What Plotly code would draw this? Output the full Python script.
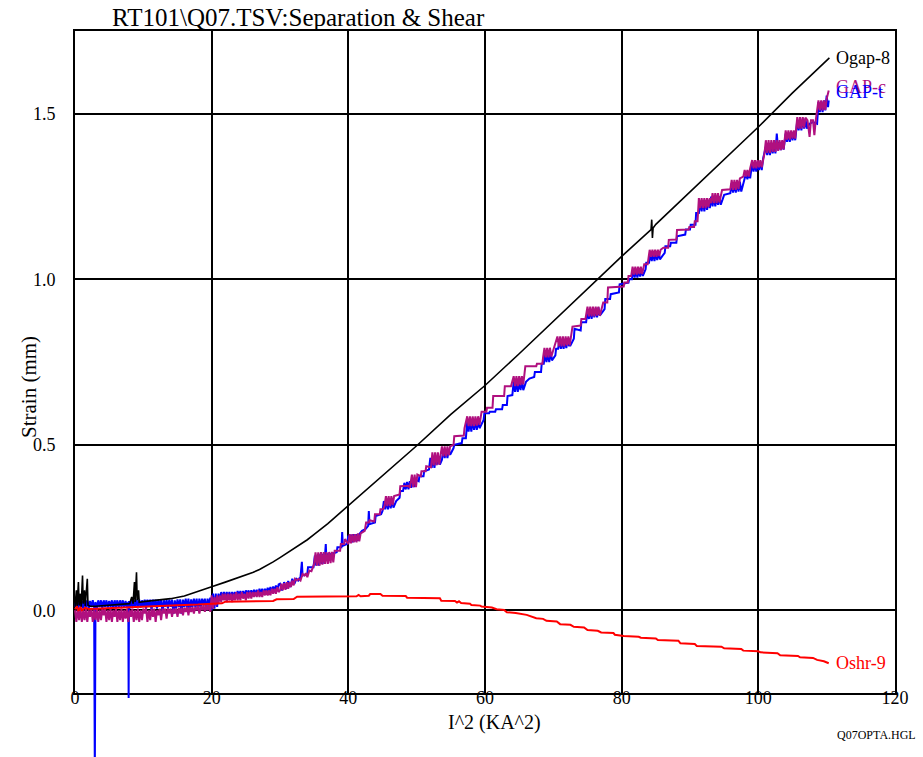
import plotly.graph_objects as go

# ---------------- data ----------------
X_TICKS = [0, 20, 40, 60, 80, 100, 120]
Y_TICKS = [0.0, 0.5, 1.0, 1.5]
Y_TICK_TEXT = ["0.0", "0.5", "1.0", "1.5"]

OGAP_8 = [(0.0,0.010),(0.2,0.060),(0.3,0.010),(0.5,0.085),(0.6,0.015),(0.8,0.050),(0.9,0.010),
          (1.1,0.105),(1.2,0.020),(1.4,0.060),(1.5,0.012),(1.8,0.095),(1.9,0.015),(2.2,0.012),
          (3.0,0.012),(4.0,0.014),(5.0,0.016),(6.0,0.017),(7.0,0.019),(8.0,0.020),(8.3,0.040),
          (8.5,0.020),(8.7,0.085),(8.8,0.025),(9.0,0.115),(9.1,0.030),(9.3,0.060),(9.4,0.024),
          (10.0,0.026),(12.0,0.030),(14.0,0.035),(16.0,0.043),(18.0,0.056),(20.0,0.071),
          (22.0,0.085),(24.0,0.099),(25.0,0.106),(26.0,0.114),(27.0,0.123),(28.0,0.134),
          (29.0,0.146),(30.0,0.159),(31.0,0.172),(32.0,0.185),(33.0,0.199),(34.0,0.213),
          (35.0,0.229),(36.0,0.245),(37.0,0.262),(38.0,0.280),(39.0,0.298),(40.0,0.316),
          (42.0,0.352),(44.0,0.389),(46.0,0.427),(48.0,0.462),(50.0,0.497),(55.0,0.592),
          (60.0,0.679),(65.0,0.775),(70.0,0.874),(75.0,0.970),(80.0,1.069),(84.3,1.150),
          (84.4,1.180),(84.5,1.125),(84.6,1.155),(85.0,1.166),(90.0,1.265),(95.0,1.363),
          (100.0,1.460),(105.0,1.563),(110.4,1.669)]

GAP_C = [(0.0,0.000),(0.2,-0.035),(0.4,0.005),(0.6,-0.030),(0.8,0.005),(1.0,-0.035),(1.2,0.000),
         (1.4,-0.030),(1.6,0.005),(1.8,-0.035),(2.0,0.000),(2.2,-0.020),(2.4,0.005),(2.6,-0.035),
         (2.8,0.000),(3.0,-0.030),(3.2,0.005),(3.4,-0.035),(3.6,0.000),(3.8,-0.030),(4.0,0.005),
         (4.2,-0.015),(4.4,0.005),(4.6,-0.035),(4.8,0.000),(5.0,-0.030),(5.2,0.005),(5.4,-0.035),
         (5.6,0.000),(5.8,-0.020),(6.0,0.005),(6.2,-0.035),(6.4,0.000),(6.6,-0.030),(6.8,0.005),
         (7.0,-0.035),(7.2,0.000),(7.4,-0.025),(7.6,0.005),(7.8,-0.035),(8.0,0.000),(8.2,-0.020),
         (8.4,0.005),(8.6,-0.035),(8.8,0.000),(9.0,-0.030),(9.2,0.005),(9.4,-0.035),(9.6,0.000),
         (9.8,-0.030),(10.0,0.005),(10.2,-0.010),(10.4,0.005),(10.6,-0.035),(10.8,0.000),
         (11.0,-0.030),(11.2,0.005),(11.4,-0.020),(11.6,0.005),(11.8,-0.035),(12.0,0.000),
         (12.2,-0.015),(12.4,0.005),(12.6,-0.030),(12.8,0.005),(13.0,-0.010),(13.2,0.005),
         (13.4,-0.025),(13.6,0.005),(13.8,-0.010),(14.0,0.005),(14.2,-0.020),(14.4,0.005),
         (14.6,-0.010),(14.8,0.005),(15.0,-0.020),(15.2,0.008),(15.4,-0.010),(15.6,0.008),
         (15.8,-0.015),(16.0,0.008),(16.2,-0.005),(16.4,0.010),(16.6,-0.015),(16.8,0.010),
         (17.0,-0.005),(17.2,0.010),(17.4,-0.010),(17.6,0.010),(17.8,0.000),(18.0,0.012),
         (18.2,-0.010),(18.4,0.012),(18.6,0.000),(18.8,0.015),(19.0,-0.005),(19.2,0.015),
         (19.4,0.000),(19.6,0.015),(19.8,-0.005),
         (20.0,0.045),(20.2,0.005),(20.4,0.040),(20.6,0.015),(20.8,0.045),(21.0,0.020),
         (21.2,0.045),(21.4,0.025),(21.6,0.050),(21.8,0.030),(22.0,0.050),(22.2,0.025),
         (22.4,0.050),(22.6,0.030),(22.8,0.050),(23.0,0.025),(23.2,0.050),(23.4,0.030),
         (23.6,0.055),(23.8,0.030),(24.0,0.050),(24.2,0.030),(24.4,0.055),(24.6,0.035),
         (24.8,0.050),(25.0,0.030),(25.2,0.055),(25.4,0.035),(25.6,0.055),(25.8,0.035),
         (26.0,0.055),(26.2,0.040),(26.4,0.055),(26.6,0.040),(26.8,0.060),(27.0,0.040),
         (27.2,0.055),(27.4,0.040),(27.6,0.060),(27.8,0.045),(28.0,0.060),(28.2,0.045),
         (28.4,0.060),(28.6,0.045),(28.8,0.065),(29.0,0.050),(29.2,0.065),(29.4,0.050),
         (29.6,0.070),(29.8,0.055),
         (30.0,0.060),(30.2,0.080),(30.4,0.060),(30.6,0.082),(30.8,0.062),(31.0,0.085),
         (31.2,0.065),(31.4,0.085),(31.6,0.070),(31.8,0.090),(32.0,0.075),(32.2,0.095),
         (32.5,0.090),(32.7,0.095),(33.0,0.090),(33.3,0.110),(33.6,0.105),(33.8,0.112),
         (34.0,0.100),(34.3,0.120),(34.6,0.118),
         (35.0,0.140),(35.2,0.175),(35.4,0.135),(35.6,0.175),(35.8,0.135),(36.0,0.176),
         (36.2,0.138),(36.4,0.176),(36.6,0.140),(36.8,0.176),(37.0,0.140),(37.2,0.176),
         (37.4,0.142),(37.6,0.176),(37.8,0.145),
         (38.0,0.180),(38.8,0.180),(38.9,0.200),(39.4,0.200),(39.5,0.215),
         (40.0,0.200),(40.2,0.230),(40.4,0.202),(40.6,0.230),(40.8,0.205),(41.0,0.230),
         (41.2,0.205),(41.4,0.232),(41.6,0.208),(41.8,0.232),
         (42.4,0.240),(42.6,0.265),(43.0,0.265),(43.1,0.272),(43.8,0.268),(43.9,0.290),
         (44.6,0.290),(44.7,0.305),(45.1,0.305),
         (45.3,0.315),(45.5,0.345),(45.7,0.315),(45.9,0.345),(46.1,0.315),(46.3,0.345),
         (46.5,0.318),(46.7,0.345),
         (47.5,0.350),(47.6,0.375),(48.8,0.376),(49.0,0.370),
         (49.3,0.410),(49.5,0.372),(49.7,0.410),(49.9,0.372),(50.1,0.410),
         (50.6,0.405),(50.7,0.420),(51.3,0.420),(51.4,0.435),(52.1,0.432),
         (52.3,0.477),(52.5,0.438),(52.7,0.477),(52.9,0.438),(53.1,0.477),(53.3,0.440),
         (53.5,0.470),
         (53.7,0.495),(53.9,0.465),(54.1,0.495),(54.3,0.465),(54.5,0.495),(54.7,0.468),
         (54.9,0.495),
         (55.4,0.500),(55.5,0.526),(56.9,0.528),(57.0,0.550),
         (57.4,0.586),(57.6,0.556),(57.8,0.586),(58.0,0.556),(58.2,0.586),(58.4,0.556),
         (58.6,0.586),(58.8,0.558),(59.0,0.586),(59.2,0.560),
         (59.5,0.600),(60.2,0.600),(60.3,0.612),(61.1,0.612),(61.2,0.647),(62.8,0.647),
         (62.9,0.677),(63.8,0.677),
         (64.2,0.707),(64.4,0.677),(64.6,0.707),(64.8,0.677),(65.0,0.707),(65.2,0.680),
         (65.4,0.707),(65.6,0.682),
         (65.9,0.737),(67.5,0.737),(67.6,0.745),(68.4,0.745),(68.5,0.764),
         (68.7,0.793),(68.9,0.764),(69.1,0.793),(69.3,0.764),(69.5,0.793),(69.7,0.766),
         (70.1,0.795),
         (70.6,0.827),(70.8,0.797),(71.0,0.827),(71.2,0.797),(71.4,0.827),(71.6,0.797),
         (71.8,0.827),(72.0,0.800),(72.2,0.827),(72.4,0.800),
         (72.8,0.857),(74.0,0.860),(74.1,0.880),(74.7,0.880),
         (75.0,0.917),(75.2,0.888),(75.4,0.917),(75.6,0.888),(75.8,0.917),(76.0,0.888),
         (76.2,0.917),(76.4,0.890),(76.6,0.917),(76.8,0.890),
         (77.3,0.930),(77.9,0.930),(78.0,0.975),(80.3,0.978),(80.4,0.990),(80.9,0.990),
         (81.0,1.010),(81.4,1.010),
         (81.6,1.038),(81.8,1.014),(82.0,1.038),(82.2,1.014),(82.4,1.038),(82.6,1.016),
         (82.8,1.038),(83.0,1.016),
         (83.3,1.045),(83.8,1.045),(83.9,1.068),
         (84.1,1.089),(84.3,1.068),(84.5,1.089),(84.7,1.068),(84.9,1.089),(85.1,1.068),
         (85.3,1.089),(85.5,1.070),(85.7,1.089),
         (86.1,1.095),(86.8,1.095),(86.9,1.119),(88.0,1.120),(88.1,1.149),(89.8,1.150),
         (89.9,1.158),(90.6,1.158),(90.7,1.175),(91.1,1.175),
         (91.3,1.245),(91.5,1.215),(91.7,1.245),(91.9,1.215),(92.1,1.245),(92.3,1.215),
         (92.5,1.245),(92.7,1.218),(92.9,1.245),(93.1,1.230),(93.3,1.260),(93.5,1.230),
         (93.7,1.260),(93.9,1.230),(94.1,1.260),(94.3,1.232),
         (94.7,1.270),(95.9,1.272),
         (96.1,1.300),(96.3,1.270),(96.5,1.300),(96.7,1.270),(96.9,1.300),(97.1,1.272),
         (97.3,1.305),
         (97.8,1.310),(98.0,1.330),(98.2,1.310),(98.4,1.330),(98.6,1.310),(98.8,1.335),
         (99.1,1.360),(99.3,1.335),(99.5,1.360),(99.7,1.335),(99.9,1.360),(100.1,1.338),
         (100.3,1.360),(100.5,1.338),(100.7,1.360),
         (100.9,1.380),
         (101.1,1.420),(101.3,1.382),(101.5,1.420),(101.7,1.382),(101.9,1.420),(102.1,1.385),
         (102.3,1.420),(102.5,1.385),(102.7,1.420),(102.9,1.388),(103.1,1.420),(103.3,1.390),
         (103.5,1.420),(103.7,1.392),
         (104.0,1.450),(104.2,1.422),(104.4,1.450),(104.6,1.422),(104.8,1.450),(105.0,1.425),
         (105.2,1.450),(105.4,1.425),
         (105.7,1.490),(105.9,1.455),(106.1,1.490),(106.3,1.455),(106.5,1.490),(106.7,1.458),
         (106.9,1.488),
         (107.2,1.480),(107.5,1.430),(107.7,1.480),(108.0,1.480),(108.2,1.435),(108.4,1.480),
         (108.8,1.540),(109.0,1.510),(109.2,1.540),(109.4,1.510),(109.6,1.540),(109.8,1.512),
         (110.0,1.545),(110.3,1.570)]

GAP_T = [(0.0,0.010),(0.2,0.030),(0.4,0.005),(0.6,0.030),(0.8,0.010),(1.0,0.028),(1.2,0.005),
         (1.4,0.030),(1.6,0.010),(1.8,0.030),(2.0,0.005),(2.2,0.028),(2.4,0.010),(2.6,0.030),
         (2.8,0.010),(2.9,-0.500),(3.0,0.025),(3.2,0.005),(3.4,0.030),(3.6,0.010),(3.8,0.030),
         (4.0,0.005),(4.2,0.030),(4.4,0.010),(4.6,0.030),(4.8,0.008),(5.0,0.028),(5.2,0.010),
         (5.4,0.030),(5.6,0.005),(5.8,0.030),(6.0,0.010),(6.2,0.030),(6.4,0.008),(6.6,0.030),
         (6.8,0.010),(7.0,0.030),(7.2,0.008),(7.4,0.028),(7.6,0.010),(7.8,0.025),(7.85,-0.265),
         (7.9,0.028),(8.0,0.005),(8.2,0.030),(8.4,0.010),(8.6,0.030),(8.8,0.008),(9.0,0.032),
         (9.2,0.010),(9.4,0.032),(9.6,0.008),(9.8,0.030),(10.0,0.010),(10.2,0.032),(10.4,0.005),
         (10.6,0.032),(10.8,0.010),(11.0,0.032),(11.2,0.000),(11.4,0.032),(11.6,0.010),
         (11.8,0.032),(12.0,0.005),(12.2,0.032),(12.4,0.010),(12.6,0.032),(12.8,-0.005),
         (13.0,0.030),(13.2,0.010),(13.4,0.032),(13.6,0.005),(13.8,0.032),(14.0,0.010),
         (14.2,0.032),(14.4,-0.010),(14.6,0.030),(14.8,0.005),(15.0,0.033),(15.2,0.010),
         (15.4,0.033),(15.6,-0.010),(15.8,0.032),(16.0,0.010),(16.2,0.035),(16.4,0.005),
         (16.6,0.035),(16.8,-0.005),(17.0,0.033),(17.2,0.010),(17.4,0.035),(17.6,0.010),
         (17.8,0.035),(18.0,0.000),(18.2,0.035),(18.4,0.010),(18.6,0.035),(18.8,0.015),
         (19.0,0.035),(19.2,0.000),(19.4,0.035),(19.6,0.015),(19.8,0.038),
         (20.0,0.000),(20.2,0.050),(20.4,0.005),(20.6,0.050),(20.8,0.010),(21.0,0.050),
         (21.2,0.030),(21.4,0.055),(21.6,0.035),(21.8,0.055),(22.0,0.035),(22.2,0.055),
         (22.4,0.040),(22.6,0.055),(22.8,0.035),(23.0,0.055),(23.2,0.040),(23.4,0.055),
         (23.6,0.040),(23.8,0.058),(24.0,0.040),(24.2,0.058),(24.4,0.042),(24.6,0.058),
         (24.8,0.040),(25.0,0.060),(25.2,0.045),(25.4,0.060),(25.6,0.045),(25.8,0.060),
         (26.0,0.045),(26.2,0.062),(26.4,0.048),(26.6,0.062),(26.8,0.048),(27.0,0.065),
         (27.2,0.050),(27.4,0.065),(27.6,0.050),(27.8,0.065),(28.0,0.052),(28.2,0.068),
         (28.4,0.055),(28.6,0.070),(28.8,0.055),(29.0,0.072),(29.2,0.058),(29.4,0.075),
         (29.6,0.060),(29.8,0.078),
         (30.0,0.080),(30.3,0.060),(30.6,0.085),(30.9,0.065),(31.2,0.088),(31.5,0.070),
         (31.8,0.095),(32.1,0.080),(32.4,0.095),(32.7,0.090),(33.0,0.100),(33.2,0.146),
         (33.3,0.105),(34.0,0.110),(34.1,0.130),(34.9,0.130),
         (35.1,0.165),(35.3,0.135),(35.5,0.168),(35.7,0.135),(35.9,0.170),(36.1,0.140),
         (36.3,0.170),(36.5,0.140),(36.7,0.200),(36.8,0.150),(37.0,0.172),(37.2,0.150),
         (37.4,0.172),(37.6,0.155),(37.8,0.172),
         (38.3,0.175),(38.4,0.190),(39.0,0.190),(39.1,0.236),(39.2,0.195),(39.8,0.200),
         (40.0,0.225),(40.2,0.205),(40.4,0.228),(40.6,0.205),(40.8,0.230),(41.0,0.208),
         (41.2,0.230),(41.4,0.210),(41.6,0.230),
         (42.0,0.240),(42.5,0.245),(42.9,0.255),(43.0,0.300),(43.1,0.260),(43.9,0.265),
         (44.0,0.285),(44.8,0.290),
         (45.0,0.300),(45.2,0.330),(45.4,0.305),(45.6,0.332),(45.8,0.305),(46.0,0.335),
         (46.2,0.308),(46.4,0.335),(46.6,0.310),
         (47.0,0.330),(47.5,0.340),(47.6,0.360),(48.0,0.360),(48.2,0.385),(48.4,0.365),
         (48.6,0.388),(48.8,0.365),(49.0,0.390),(49.2,0.370),(49.4,0.392),(49.6,0.372),
         (49.8,0.395),(50.3,0.390),(50.4,0.405),(51.0,0.405),(51.1,0.420),(51.8,0.425),
         (52.0,0.460),(52.2,0.430),(52.4,0.462),(52.6,0.430),(52.8,0.465),(53.0,0.440),
         (53.2,0.465),(53.4,0.440),
         (53.7,0.455),(53.9,0.485),(54.1,0.460),(54.3,0.485),(54.5,0.460),(54.7,0.485),
         (54.9,0.470),(55.4,0.490),(55.5,0.500),(56.6,0.505),(56.7,0.520),(57.2,0.520),
         (57.4,0.570),(57.6,0.540),(57.8,0.572),(58.0,0.540),(58.2,0.575),(58.4,0.545),
         (58.6,0.575),(58.8,0.545),(59.0,0.575),(59.2,0.550),
         (59.8,0.575),(59.9,0.595),(60.6,0.595),(60.7,0.600),(61.5,0.600),(61.6,0.607),
         (62.5,0.607),(62.6,0.620),(63.2,0.620),(63.3,0.647),(64.0,0.650),
         (64.2,0.690),(64.4,0.660),(64.6,0.692),(64.8,0.660),(65.0,0.695),(65.2,0.665),
         (65.4,0.695),(65.6,0.665),
         (66.0,0.690),(66.5,0.700),(67.2,0.705),(67.3,0.720),(68.2,0.720),(68.3,0.745),
         (68.6,0.745),
         (68.8,0.775),(69.0,0.750),(69.2,0.778),(69.4,0.750),(69.6,0.780),(69.8,0.755),
         (70.3,0.770),(70.4,0.790),(70.7,0.790),
         (70.9,0.815),(71.1,0.790),(71.3,0.815),(71.5,0.790),(71.7,0.818),(71.9,0.792),
         (72.1,0.820),(72.3,0.800),(72.5,0.800),
         (73.0,0.820),(73.1,0.850),(74.0,0.845),(74.1,0.870),(74.8,0.870),
         (75.0,0.905),(75.2,0.880),(75.4,0.908),(75.6,0.880),(75.8,0.910),(76.0,0.885),
         (76.2,0.912),(76.4,0.885),(76.6,0.915),(76.8,0.890),
         (77.5,0.910),(77.6,0.940),(78.3,0.940),(78.4,0.955),(79.6,0.960),(79.7,0.985),
         (81.0,0.990),(81.1,1.000),(81.5,1.000),
         (81.7,1.030),(81.9,1.005),(82.1,1.030),(82.3,1.005),(82.5,1.030),(82.7,1.008),
         (82.9,1.030),(83.1,1.010),
         (83.5,1.030),(83.6,1.050),(84.0,1.050),
         (84.2,1.080),(84.4,1.055),(84.6,1.080),(84.8,1.055),(85.0,1.082),(85.2,1.058),
         (85.4,1.082),(85.6,1.060),
         (86.3,1.080),(86.4,1.100),(87.1,1.100),(87.2,1.110),(88.0,1.110),(88.1,1.130),
         (89.3,1.135),(89.4,1.150),(90.0,1.150),(90.1,1.165),(90.8,1.165),(90.9,1.200),
         (91.3,1.200),
         (91.5,1.235),(91.7,1.205),(91.9,1.238),(92.1,1.205),(92.3,1.238),(92.5,1.210),
         (92.7,1.240),(92.9,1.215),(93.1,1.250),(93.3,1.220),(93.5,1.250),(93.7,1.220),
         (93.9,1.250),(94.1,1.225),(94.3,1.250),(94.5,1.225),
         (95.0,1.255),(95.9,1.260),
         (96.1,1.290),(96.3,1.262),(96.5,1.292),(96.7,1.262),(96.9,1.295),(97.1,1.265),
         (97.3,1.295),(97.5,1.265),
         (98.0,1.300),(98.2,1.320),(98.4,1.302),(98.6,1.320),(98.8,1.305),
         (99.1,1.350),(99.3,1.325),(99.5,1.350),(99.7,1.325),(99.9,1.355),(100.1,1.330),
         (100.3,1.355),(100.5,1.330),(100.7,1.365),
         (101.1,1.400),(101.3,1.375),(101.5,1.405),(101.7,1.375),(101.9,1.410),(102.1,1.380),
         (102.3,1.410),(102.5,1.380),(102.7,1.440),(102.9,1.390),(103.1,1.415),(103.3,1.390),
         (103.5,1.415),(103.7,1.392),
         (104.0,1.440),(104.2,1.415),(104.4,1.442),(104.6,1.415),(104.8,1.445),(105.0,1.420),
         (105.2,1.445),(105.4,1.420),
         (105.7,1.480),(105.9,1.450),(106.1,1.482),(106.3,1.450),(106.5,1.485),(106.7,1.455),
         (106.9,1.485),(107.1,1.455),
         (107.5,1.470),(108.0,1.475),(108.6,1.470),
         (108.8,1.535),(109.0,1.505),(109.2,1.538),(109.4,1.505),(109.6,1.540),(109.8,1.510),
         (110.0,1.555),(110.2,1.520),(110.3,1.540)]

OSHR_9 = [(0.0,0.003),(0.3,0.012),(0.5,-0.002),(0.8,0.010),(1.0,0.000),(1.5,0.008),(2.0,0.004),
          (5.0,0.007),(8.0,0.010),(10.0,0.012),(12.0,0.013),(15.0,0.015),(18.0,0.017),
          (20.0,0.019),(21.5,0.021),(22.0,0.026),(25.0,0.027),(29.0,0.028),(29.5,0.033),
          (32.0,0.034),(32.5,0.041),(38.0,0.041),(41.2,0.042),(41.5,0.046),(41.8,0.042),
          (43.0,0.044),(43.2,0.049),(44.7,0.049),(45.0,0.044),(48.4,0.043),(48.6,0.038),
          (53.4,0.036),(53.6,0.029),(55.6,0.028),(55.9,0.023),(56.2,0.027),(56.5,0.022),
          (57.8,0.020),(58.0,0.016),(59.3,0.014),(59.5,0.011),(61.0,0.008),(61.7,0.003),
          (62.8,0.001),(63.2,-0.006),(64.5,-0.008),(66.1,-0.014),(67.5,-0.024),(68.5,-0.026),
          (69.0,-0.032),(70.5,-0.034),(71.0,-0.042),(72.5,-0.044),(73.0,-0.050),(74.5,-0.052),
          (75.0,-0.060),(76.5,-0.062),(77.0,-0.067),(78.8,-0.069),(79.0,-0.074),(80.0,-0.076),
          (80.3,-0.078),(82.5,-0.080),(82.8,-0.083),(85.0,-0.085),(85.3,-0.090),(88.3,-0.092),
          (88.6,-0.100),(90.7,-0.102),(91.0,-0.108),(94.6,-0.110),(95.0,-0.115),(97.5,-0.117),
          (97.8,-0.122),(100.0,-0.124),(100.3,-0.127),(102.8,-0.130),(103.2,-0.136),
          (105.8,-0.138),(106.1,-0.142),(108.0,-0.144),(108.6,-0.150),(109.6,-0.154),
          (110.3,-0.160)]

# ---------------- layout geometry ----------------
W, H = 923, 757
PL, PR, PT, PB = 75, 895, 31, 693          # plot box in pixels
XLAB_LINE = 685                            # baseline used for the x tick labels
X_RANGE = [0, 120]
Y_RANGE = [-0.25, 1.75]

xs = (PR - PL) / (X_RANGE[1] - X_RANGE[0])
ys = (PB - PT) / (Y_RANGE[1] - Y_RANGE[0])
X2_RANGE = [X_RANGE[0] - PL / xs, X_RANGE[1] + (W - PR) / xs]
Y2_RANGE = [Y_RANGE[0] - (H - PB) / ys, Y_RANGE[1] + PT / ys]

FONT = "Liberation Serif"

series = [
    ("GAP-t", GAP_T, "#0000FF", 2.0),
    ("GAP-c", GAP_C, "#B0107F", 2.0),
    ("Ogap-8", OGAP_8, "#000000", 1.6),
    ("Oshr-9", OSHR_9, "#FF0000", 2.0),
]

fig = go.Figure()
# empty traces so that the framed grid subplot and its label axis are drawn
fig.add_trace(go.Scatter(x=[None], y=[None], mode="lines", xaxis="x", yaxis="y",
                         showlegend=False, hoverinfo="skip"))
fig.add_trace(go.Scatter(x=[None], y=[None], mode="lines", xaxis="x3", yaxis="y",
                         showlegend=False, hoverinfo="skip"))
for name, pts, color, width in series:
    fig.add_trace(go.Scatter(
        x=[p[0] for p in pts], y=[p[1] for p in pts], mode="lines", name=name,
        line=dict(color=color, width=width), xaxis="x2", yaxis="y2",
        showlegend=False, hoverinfo="skip"))

tickfont = dict(family=FONT, size=18, color="black")
axis_common = dict(showgrid=True, gridcolor="black", gridwidth=2, zeroline=False,
                   showline=True, linecolor="black", linewidth=2, mirror=True,
                   ticks="", tickfont=tickfont, automargin=False, fixedrange=True)

fig.update_layout(
    width=W, height=H, margin=dict(l=0, r=0, t=0, b=0, pad=0), autosize=False,
    paper_bgcolor="white", plot_bgcolor="rgba(0,0,0,0)",
    font=dict(family=FONT, color="black"),
    xaxis=dict(domain=[PL / W, PR / W], range=X_RANGE, tickvals=X_TICKS,
               showticklabels=False, anchor="y", **axis_common),
    xaxis3=dict(domain=[PL / W, PR / W], range=X_RANGE, tickvals=X_TICKS,
                ticktext=[str(v) for v in X_TICKS], overlaying="x", anchor="free",
                position=1 - XLAB_LINE / H, side="bottom", showgrid=False, zeroline=False,
                showline=False, ticks="", tickfont=tickfont, automargin=False,
                fixedrange=True),
    yaxis=dict(domain=[1 - PB / H, 1 - PT / H], range=Y_RANGE, tickvals=Y_TICKS,
               ticktext=Y_TICK_TEXT, anchor="x", ticklabelstandoff=14, **axis_common),
    xaxis2=dict(domain=[0, 1], range=X2_RANGE, visible=False, anchor="y2", fixedrange=True),
    yaxis2=dict(domain=[0, 1], range=Y2_RANGE, visible=False, anchor="x2", fixedrange=True),
    showlegend=False,
)

ann = []
label_shift = {"Ogap-8": 0, "GAP-c": 4, "GAP-t": 9, "Oshr-9": 0}
for name, pts, color, width in [series[1], series[0], series[2], series[3]]:
    ann.append(dict(x=pts[-1][0], y=pts[-1][1], xref="x2", yref="y2", text=name,
                    showarrow=False, xanchor="left", yanchor="middle", xshift=5,
                    yshift=label_shift[name],
                    font=dict(family=FONT, size=18, color=color)))

ann += [
    dict(x=110 / W, y=1 - 18 / H, xref="paper", yref="paper",
         text="RT101\\Q07.TSV:Separation &amp; Shear", showarrow=False,
         xanchor="left", yanchor="middle", font=dict(family=FONT, size=25, color="black")),
    dict(x=495 / W, y=1 - 722 / H, xref="paper", yref="paper", text="I^2 (KA^2)",
         showarrow=False, xanchor="center", yanchor="middle",
         font=dict(family=FONT, size=20, color="black")),
    dict(x=29 / W, y=1 - 387 / H, xref="paper", yref="paper", text="Strain (mm)",
         showarrow=False, textangle=-90, xanchor="center", yanchor="middle",
         font=dict(family=FONT, size=21, color="black")),
    dict(x=876 / W, y=1 - 735 / H, xref="paper", yref="paper", text="Q07OPTA.HGL",
         showarrow=False, xanchor="center", yanchor="middle",
         font=dict(family=FONT, size=12, color="black")),
]
fig.update_layout(annotations=ann)

fig.write_html("out.html")
